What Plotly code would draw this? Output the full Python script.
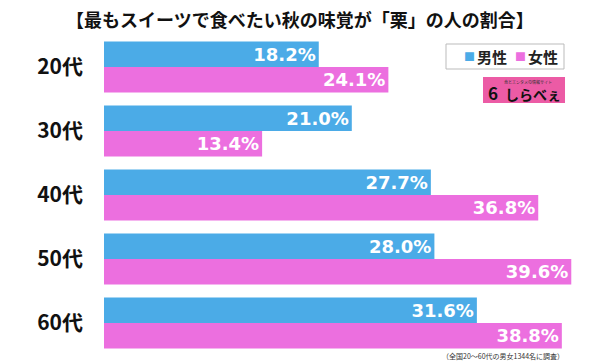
import plotly.graph_objects as go

categories = ["20代", "30代", "40代", "50代", "60代"]
male = [18.2, 21.0, 27.7, 28.0, 31.6]
female = [24.1, 13.4, 36.8, 39.6, 38.8]
series_names = ["男性", "女性"]
title_text = "【最もスイーツで食べたい秋の味覚が「栗」の人の割合】"
note_text = "（全国20〜60代の男女1344名に調査）"

BLUE = "#4BABE7"
PINK = "#EC6FDF"
FONT = "Noto Sans CJK JP"
NUMFONT = "DejaVu Sans"

W, H = 600, 363
L, T, R, B = 104, 35, 600, 355
PW, PH = R - L, B - T


def px(x):
    return (x - L) / PW


def py(y):
    return (B - y) / PH


pos = list(range(len(categories)))

fig = go.Figure()
for name, vals, col in [(series_names[0], male, BLUE), (series_names[1], female, PINK)]:
    fig.add_trace(go.Bar(
        y=pos, x=vals, orientation="h", name=name,
        marker=dict(color=col, line=dict(width=0)),
        text=[f"{v:.1f}%" for v in vals],
        textposition="inside", insidetextanchor="end", constraintext="none",
        textfont=dict(family=NUMFONT, size=18, color="white", weight="bold"),
        showlegend=False,
    ))


def ann(text, x, y, size, color="#111111", xanchor="center", weight="bold"):
    return dict(text=text, xref="paper", yref="paper", x=px(x), y=py(y),
                xanchor=xanchor, yanchor="middle", showarrow=False,
                font=dict(family=FONT, size=size, color=color, weight=weight))


annotations = [
    ann(title_text, 300, 18.5, 18),
    ann(note_text, 566, 356, 7, color="#333333", xanchor="right", weight="normal"),
    ann("■", 469, 56.5, 11, color=BLUE),
    ann(series_names[0], 475, 56.5, 15, color="#222222", xanchor="left"),
    ann("■", 520, 56.5, 11, color=PINK),
    ann(series_names[1], 526, 56.5, 15, color="#222222", xanchor="left"),
    ann("しらべぇ", 533, 94, 14),
    ann("6", 493, 92, 17),
    ann("食とエンタメの情報サイト", 528, 82, 4, color="#333333", weight="normal"),
]

fig.update_layout(
    width=W, height=H,
    margin=dict(l=L, r=W - R, t=T, b=H - B, autoexpand=False),
    paper_bgcolor="white", plot_bgcolor="white",
    barmode="group", bargap=0.203, bargroupgap=0,
    hovermode=False,
    xaxis=dict(range=[0, PW / 11.8], visible=False, fixedrange=True),
    yaxis=dict(
        range=[4.5, -0.5], tickmode="array", tickvals=pos, ticktext=categories,
        showgrid=False, zeroline=False, showline=False, ticks="",
        ticklabelstandoff=20, automargin=False, fixedrange=True,
        tickfont=dict(family=FONT, size=21, color="#111111", weight="bold"),
    ),
    annotations=annotations,
    shapes=[
        dict(type="rect", xref="paper", yref="paper",
             x0=px(446), x1=px(564), y0=py(69), y1=py(44),
             fillcolor="white", line=dict(width=1, color="#BBBBBB")),
        dict(type="rect", xref="paper", yref="paper",
             x0=px(483), x1=px(565), y0=py(103), y1=py(77),
             fillcolor="#EC5BA5", line=dict(width=0), layer="below"),
    ],
)

fig.write_html("out.html", config={"displayModeBar": False},
               post_script="document.body.style.margin='0';document.body.style.overflow='hidden';")
